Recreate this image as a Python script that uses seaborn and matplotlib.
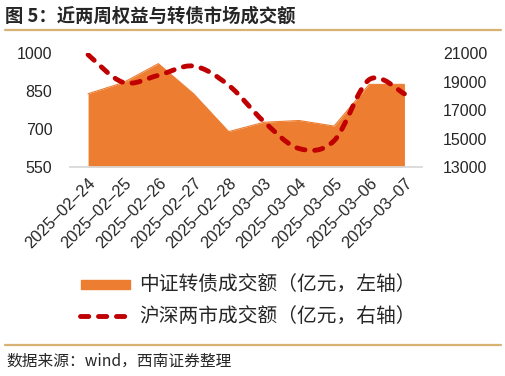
import numpy as np
import pandas as pd
import matplotlib
matplotlib.use("Agg")
import matplotlib.pyplot as plt
import seaborn as sns
from matplotlib.path import Path
from matplotlib.patches import PathPatch, Rectangle
from matplotlib.lines import Line2D

# ---------------- data ----------------
dates = ["2025–02–24", "2025–02–25", "2025–02–26", "2025–02–27", "2025–02–28",
         "2025–03–03", "2025–03–04", "2025–03–05", "2025–03–06", "2025–03–07"]
cb_turnover = [840, 884, 959, 840, 690, 727, 734, 712, 877, 877]          # left axis
a_turnover = [20900, 18950, 19450, 20100, 18750, 16200, 14300, 14850, 19150, 18150]  # right axis
left_ticks = [550, 700, 850, 1000]
right_ticks = [13000, 15000, 17000, 19000, 21000]
title = "图 5：近两周权益与转债市场成交额"
legend_labels = ["中证转债成交额（亿元，左轴）", "沪深两市成交额（亿元，右轴）"]
source = "数据来源：wind，西南证券整理"

df = pd.DataFrame({"x": np.arange(len(dates)), "cb": cb_turnover, "a": a_turnover})

sns.set_theme(style="white")
plt.rcParams["font.family"] = ["Liberation Sans", "Noto Sans CJK SC", "DejaVu Sans"]

ORANGE = "#ED7D31"
RED = "#C00000"
TAN = "#D8B272"
CJK = ["Noto Sans CJK SC", "DejaVu Sans"]
DASH = (0, (1.7, 2.0))

W, H = 506, 376
fig = plt.figure(figsize=(W / 100, H / 100), dpi=100)

ax_l, ax_r = 70.5 / W, 422 / W
ax_b, ax_t = 1 - 167 / H, 1 - 53.3 / H
ax = fig.add_axes([ax_l, ax_b, ax_r - ax_l, ax_t - ax_b])
ax2 = ax.twinx()

# area (left axis)
ax.fill_between(df["x"], 550, df["cb"], color=ORANGE, linewidth=0, zorder=1)
sns.lineplot(data=df, x="x", y="cb", ax=ax, color=ORANGE, linewidth=0.8, zorder=2)
ax.set_xlim(-0.5, len(dates) - 0.5)
ax.set_ylim(550, 1000)
ax.set_yticks(left_ticks)
ax.set_yticklabels([str(v) for v in left_ticks], fontsize=11.5)
ax.set_xticks(df["x"])
ax.set_xticklabels(dates, rotation=45, ha="right", rotation_mode="anchor", fontsize=11.8)
ax.tick_params(axis="y", length=0, pad=13)
ax.tick_params(axis="x", length=0, pad=6)
ax.set_xlabel("")
ax.set_ylabel("")

# smoothed dashed line (right axis), Catmull-Rom -> cubic Bezier in data coords
xs = df["x"].to_numpy(float)
ys = df["a"].to_numpy(float)
P = np.column_stack([xs, ys])
Pext = np.vstack([P[0], P, P[-1]])
verts = [tuple(P[0])]
codes = [Path.MOVETO]
for i in range(len(P) - 1):
    p0, p1, p2, p3 = Pext[i], Pext[i + 1], Pext[i + 2], Pext[i + 3]
    c1 = p1 + (p2 - p0) / 6.0
    c2 = p2 - (p3 - p1) / 6.0
    verts += [tuple(c1), tuple(c2), tuple(p2)]
    codes += [Path.CURVE4] * 3
patch = PathPatch(Path(verts, codes), fill=False, edgecolor=RED, linewidth=3.5,
                  linestyle=DASH, capstyle="round", zorder=3)
ax2.add_patch(patch)
ax2.set_ylim(13000, 21000)
ax2.set_yticks(right_ticks)
ax2.set_yticklabels([str(v) for v in right_ticks], fontsize=11.5)
ax2.tick_params(axis="y", length=0, pad=15)
ax2.set_ylabel("")

for a in (ax, ax2):
    for s in ("left", "right", "top"):
        a.spines[s].set_visible(False)
    a.grid(False)
ax.spines["bottom"].set_visible(False)
ax2.spines["bottom"].set_color("#D9D9D9")
ax2.spines["bottom"].set_linewidth(1.3)
ax.patch.set_alpha(0)

# title and rules
fig.text(5 / W, 1 - 16 / H, title, fontsize=13.2, fontweight="bold", family=CJK,
         va="center", ha="left")
fig.add_artist(Line2D([5 / W, 501 / W], [1 - 30 / H] * 2, color=TAN, linewidth=1.6))
fig.add_artist(Line2D([5 / W, 501 / W], [1 - 345 / H] * 2, color=TAN, linewidth=1.6))

# legend
fig.add_artist(Rectangle((81 / W, 1 - 289 / H), 49 / W, 9 / H, color=ORANGE,
                         transform=fig.transFigure))
fig.text(139 / W, 1 - 284 / H, legend_labels[0], fontsize=14.2, family=CJK,
         va="center", ha="left")
fig.add_artist(Line2D([80.5 / W, 125.5 / W], [1 - 316 / H] * 2, color=RED, linewidth=3.5,
                      linestyle=DASH, solid_capstyle="round",
                      dash_capstyle="round"))
fig.text(139 / W, 1 - 317 / H, legend_labels[1], fontsize=14.2, family=CJK,
         va="center", ha="left")

# source
fig.text(6 / W, 1 - 361 / H, source, fontsize=11.3, family=CJK, style="italic",
         va="center", ha="left")

fig.savefig("out.png", dpi=100)
